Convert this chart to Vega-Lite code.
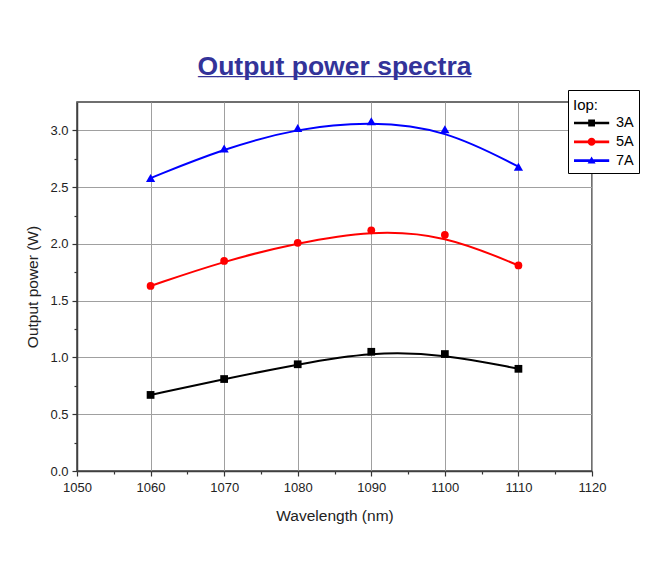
{
  "$schema": "https://vega.github.io/schema/vega-lite/v6.json",
  "width": 515,
  "height": 369,
  "autosize": "none",
  "padding": {"left": 77, "top": 102, "right": 69, "bottom": 100},
  "background": "white",
  "config": {
    "font": "Liberation Sans",
    "view": {"stroke": "#404040", "strokeWidth": 1.5}
  },
  "title": {
    "text": "Output power spectra",
    "subtitle": "______________",
    "fontSize": 26.5,
    "fontWeight": "bold",
    "color": "#333399",
    "subtitleColor": "#333399",
    "subtitleFontSize": 35,
    "subtitleFontWeight": "bold",
    "subtitleFont": "Liberation Sans",
    "subtitlePadding": -35,
    "anchor": "middle",
    "offset": 1
  },
  "data": {
    "values": [
      {"wl": 1060, "power": 0.67, "series": "3A"},
      {"wl": 1070, "power": 0.81, "series": "3A"},
      {"wl": 1080, "power": 0.94, "series": "3A"},
      {"wl": 1090, "power": 1.05, "series": "3A"},
      {"wl": 1100, "power": 1.03, "series": "3A"},
      {"wl": 1110, "power": 0.90, "series": "3A"},
      {"wl": 1060, "power": 1.63, "series": "5A"},
      {"wl": 1070, "power": 1.85, "series": "5A"},
      {"wl": 1080, "power": 2.01, "series": "5A"},
      {"wl": 1090, "power": 2.12, "series": "5A"},
      {"wl": 1100, "power": 2.08, "series": "5A"},
      {"wl": 1110, "power": 1.81, "series": "5A"},
      {"wl": 1060, "power": 2.58, "series": "7A"},
      {"wl": 1070, "power": 2.84, "series": "7A"},
      {"wl": 1080, "power": 3.02, "series": "7A"},
      {"wl": 1090, "power": 3.08, "series": "7A"},
      {"wl": 1100, "power": 3.01, "series": "7A"},
      {"wl": 1110, "power": 2.68, "series": "7A"}
    ]
  },
  "encoding": {
    "x": {
      "field": "wl",
      "type": "quantitative",
      "scale": {"domain": [1050, 1120], "nice": false, "zero": false},
      "axis": {
        "title": "Wavelength (nm)",
        "values": [1050, 1055, 1060, 1065, 1070, 1075, 1080, 1085, 1090, 1095, 1100, 1105, 1110, 1115, 1120],
        "format": "d",
        "labelExpr": "datum.value % 10 === 5 ? '' : datum.label",
        "grid": true,
        "gridColor": "#a0a0a0",
        "gridWidth": 1,
        "gridOpacity": {"condition": {"test": "datum.value % 10 === 5", "value": 0}, "value": 1},
        "tickSize": {"condition": {"test": "datum.value % 10 === 5", "value": 3}, "value": 5},
        "tickColor": "#333333",
        "tickWidth": 1.2,
        "domainColor": "#404040",
        "domainWidth": 1.5,
        "labelFontSize": 13,
        "labelColor": "#222222",
        "labelPadding": 5,
        "labelFlush": false,
        "labelOverlap": false,
        "titleFontSize": 15.5,
        "titleFontWeight": "normal",
        "titleColor": "#222222",
        "titlePadding": 14
      }
    },
    "y": {
      "field": "power",
      "type": "quantitative",
      "scale": {"domain": [0, 3.25], "nice": false},
      "axis": {
        "title": "Output power (W)",
        "values": [0, 0.25, 0.5, 0.75, 1, 1.25, 1.5, 1.75, 2, 2.25, 2.5, 2.75, 3],
        "format": ".1f",
        "labelExpr": "round(datum.value * 4) % 2 === 1 ? '' : datum.label",
        "grid": true,
        "gridColor": "#a0a0a0",
        "gridWidth": 1,
        "gridOpacity": {"condition": {"test": "round(datum.value * 4) % 2 === 1", "value": 0}, "value": 1},
        "tickSize": {"condition": {"test": "round(datum.value * 4) % 2 === 1", "value": 3}, "value": 5},
        "tickColor": "#333333",
        "tickWidth": 1.2,
        "domainColor": "#404040",
        "domainWidth": 1.5,
        "labelFontSize": 13,
        "labelColor": "#222222",
        "labelPadding": 4,
        "labelFlush": false,
        "labelOverlap": false,
        "titleFontSize": 15.5,
        "titleFontWeight": "normal",
        "titleColor": "#222222",
        "titlePadding": 9
      }
    }
  },
  "resolve": {"scale": {"color": "independent", "shape": "independent"}},
  "layer": [
    {
      "mark": {"type": "line", "interpolate": "basis", "strokeWidth": 2},
      "encoding": {
        "color": {
          "field": "series",
          "type": "nominal",
          "scale": {"domain": ["3A", "5A", "7A"], "range": ["#000000", "#ff0000", "#0000ff"]},
          "legend": null
        }
      }
    },
    {
      "transform": [{"filter": "datum.series !== '7A'"}],
      "mark": {"type": "point", "filled": true, "opacity": 1, "size": 60},
      "encoding": {
        "color": {
          "field": "series",
          "type": "nominal",
          "scale": {"domain": ["3A", "5A"], "range": ["#000000", "#ff0000"]},
          "legend": null
        },
        "shape": {
          "field": "series",
          "type": "nominal",
          "scale": {"domain": ["3A", "5A"], "range": ["square", "circle"]},
          "legend": null
        }
      }
    },
    {
      "transform": [{"filter": "datum.series === '7A'"}],
      "mark": {"type": "point", "filled": true, "opacity": 1, "size": 85, "shape": "triangle-up", "color": "#0000ff"}
    },
    {
      "mark": {"type": "point", "filled": true, "opacity": 0, "size": 256},
      "encoding": {
        "color": {
          "field": "series",
          "type": "nominal",
          "scale": {"domain": ["3A", "5A", "7A"], "range": ["#000000", "#ff0000", "#0000ff"]},
          "legend": {
            "title": "Iop:",
            "orient": "none",
            "legendX": 491,
            "legendY": -12,
            "fillColor": "white",
            "strokeColor": "#000000",
            "padding": 5,
            "titleFontSize": 15,
            "titleFontWeight": "normal",
            "titleColor": "#000000",
            "titleBaseline": "line-top",
            "titleLineHeight": 21,
            "titlePadding": 4,
            "labelFontSize": 14.5,
            "labelColor": "#000000",
            "labelOffset": 25,
            "symbolSize": 256,
            "rowPadding": 2.8,
            "symbolOpacity": 1
          }
        },
        "shape": {
          "field": "series",
          "type": "nominal",
          "scale": {
            "domain": ["3A", "5A", "7A"],
            "range": [
              "M-1,-0.17H3.4V0.17H-1ZM0.775,-0.425H1.625V0.425H0.775Z",
              "M-1,-0.17H3.4V0.17H-1ZM0.7,0A0.5,0.5 0 1,1 1.7,0A0.5,0.5 0 1,1 0.7,0Z",
              "M-1,-0.17H3.4V0.17H-1ZM1.2,-0.5L1.7,0.375L0.7,0.375Z"
            ]
          },
          "legend": {
            "title": "Iop:",
            "orient": "none",
            "legendX": 491,
            "legendY": -12,
            "fillColor": "white",
            "strokeColor": "#000000",
            "padding": 5,
            "titleFontSize": 15,
            "titleFontWeight": "normal",
            "titleColor": "#000000",
            "titleBaseline": "line-top",
            "titleLineHeight": 21,
            "titlePadding": 4,
            "labelFontSize": 14.5,
            "labelColor": "#000000",
            "labelOffset": 25,
            "symbolSize": 256,
            "rowPadding": 2.8,
            "symbolOpacity": 1
          }
        }
      }
    }
  ]
}
